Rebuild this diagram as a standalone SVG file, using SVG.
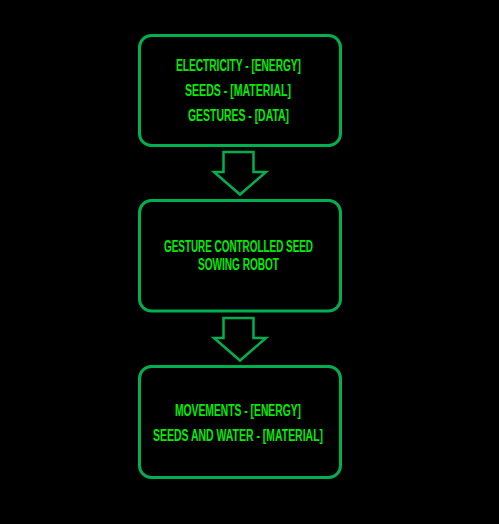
<svg xmlns="http://www.w3.org/2000/svg" width="499" height="524" viewBox="0 0 499 524">
<style>
.box{fill:#000;stroke:#00b050;stroke-width:3}
.arrow{fill:#000;stroke:#00b050;stroke-width:2.5;stroke-linejoin:miter}
.t{fill:#00ee00;font-family:"Liberation Sans",Arial,sans-serif;font-size:16px;font-weight:bold;text-anchor:start}
</style>
<rect width="499" height="524" fill="#000"/>
<g id="connectors">
<path class="arrow" d="M223.5,152 H253.5 V172 H266 L240,194.5 L214,172 H223.5 Z"/>
<path class="arrow" d="M223.5,318 H253.5 V338 H266 L240,360.5 L214,338 H223.5 Z"/>
</g>
<g id="inputs">
<rect class="box" x="139.5" y="35.5" width="201" height="110" rx="12"/>
<text class="t" x="176" y="70.5" textLength="125" lengthAdjust="spacingAndGlyphs">ELECTRICITY - [ENERGY]</text>
<text class="t" x="185" y="96" textLength="106" lengthAdjust="spacingAndGlyphs">SEEDS - [MATERIAL]</text>
<text class="t" x="188" y="121" textLength="101" lengthAdjust="spacingAndGlyphs">GESTURES - [DATA]</text>
</g>
<g id="robot">
<rect class="box" x="139.5" y="200.5" width="201" height="110.5" rx="12"/>
<text class="t" x="164" y="252" textLength="149" lengthAdjust="spacingAndGlyphs">GESTURE CONTROLLED SEED</text>
<text class="t" x="198" y="270" textLength="81" lengthAdjust="spacingAndGlyphs">SOWING ROBOT</text>
</g>
<g id="outputs">
<rect class="box" x="139.5" y="366.5" width="201" height="111" rx="12"/>
<text class="t" x="175" y="415.5" textLength="126" lengthAdjust="spacingAndGlyphs">MOVEMENTS - [ENERGY]</text>
<text class="t" x="153" y="441" textLength="170" lengthAdjust="spacingAndGlyphs">SEEDS AND WATER - [MATERIAL]</text>
</g>
</svg>
